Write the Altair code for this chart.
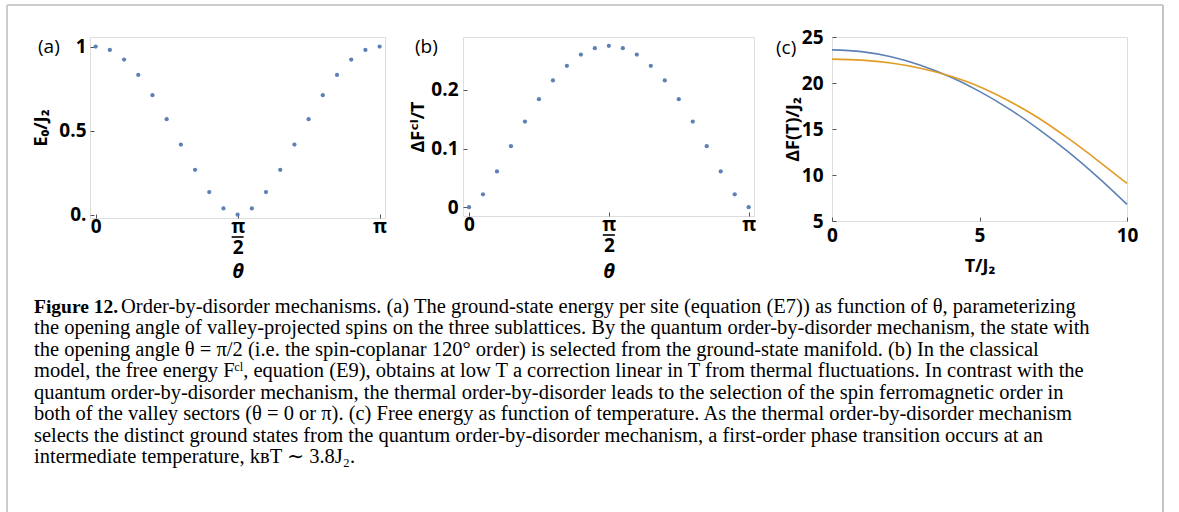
import altair as alt
import pandas as pd

# ---------------- data ----------------
theta_over_pi = [0.0, 0.05, 0.1, 0.15, 0.2, 0.25, 0.3, 0.35, 0.4, 0.45, 0.5,
                 0.55, 0.6, 0.65, 0.7, 0.75, 0.8, 0.85, 0.9, 0.95, 1.0]
E0_over_J2 = [1.0, 0.98, 0.923, 0.831, 0.711, 0.568, 0.417, 0.267, 0.134, 0.037, 0.0,
              0.037, 0.134, 0.267, 0.417, 0.568, 0.711, 0.831, 0.923, 0.98, 1.0]
dFcl_over_T = [0.0, 0.022, 0.061, 0.104, 0.146, 0.184, 0.216, 0.241, 0.260, 0.271, 0.275,
               0.271, 0.260, 0.241, 0.216, 0.184, 0.146, 0.104, 0.061, 0.022, 0.0]
T_over_J2 = [0, 1, 2, 3, 4, 5, 6, 7, 8, 9, 10]
F_blue = [23.6, 23.41, 22.85, 21.93, 20.67, 19.09, 17.19, 14.99, 12.53, 9.79, 6.8]
F_orange = [22.6, 22.49, 22.17, 21.6, 20.75, 19.6, 18.05, 16.2, 14.0, 11.6, 9.08]

x_ticks_theta = [0, 0.5, 1]
y_ticks_a = [0, 0.5, 1]
y_ticks_b = [0, 0.1, 0.2]
x_ticks_c = [0, 5, 10]
y_ticks_c = [5, 10, 15, 20, 25]

caption_first_bold = "Figure 12."
caption_first_rest = ("Order-by-disorder mechanisms. (a) The ground-state energy per site "
                      "(equation (E7)) as function of θ, parameterizing")
caption_lines = [
    "the opening angle of valley-projected spins on the three sublattices. By the quantum order-by-disorder mechanism, the state with",
    "the opening angle θ = π/2 (i.e. the spin-coplanar 120° order) is selected from the ground-state manifold. (b) In the classical",
    "model, the free energy Fᶜˡ, equation (E9), obtains at low T a correction linear in T from thermal fluctuations. In contrast with the",
    "quantum order-by-disorder mechanism, the thermal order-by-disorder leads to the selection of the spin ferromagnetic order in",
    "both of the valley sectors (θ = 0 or π). (c) Free energy as function of temperature. As the thermal order-by-disorder mechanism",
    "selects the distinct ground states from the quantum order-by-disorder mechanism, a first-order phase transition occurs at an",
    "intermediate temperature, kʙT ∼ 3.8J₂.",
]

BLUE = "#5E81B5"
ORANGE = "#E19C24"
FONT = "Open Sans, DejaVu Sans, sans-serif"
SERIF = "Liberation Serif, DejaVu Serif, serif"
CAP_FS = 20.5
LAB_FS = 19
TIT_FS = 18


def ax(**kw):
    base = dict(domain=False, grid=False, ticks=True, tickColor="#555555", tickSize=4,
                tickWidth=1, offset=-4, labelFont=FONT, labelFontSize=LAB_FS,
                labelFontWeight="bold", labelColor="black", titleFont=FONT,
                titleFontWeight="bold", titleColor="black", labelOverlap=False,
                labelFlush=False)
    base.update(kw)
    return alt.Axis(**base)


theta_label = "datum.value == 0 ? '0' : (datum.value == 1 ? 'π' : ['π', '2'])"


def frac_bar(H):
    return alt.Chart(pd.DataFrame({"theta": [0.5]})).mark_rule(
        color="black", strokeWidth=1.6, xOffset=-6, x2Offset=6
    ).encode(x="theta:Q", x2="theta", y=alt.value(H + 19))


def panel_label(txt, dx, dy):
    return alt.Chart(pd.DataFrame({"t": [txt]})).mark_text(
        font=FONT, fontSize=19, align="left", baseline="middle", color="black"
    ).encode(x=alt.value(dx), y=alt.value(dy), text="t:N")


# ---------------- caption + figure frame (drawn in panel (a)'s coordinates) ----------------
cap_scale = alt.Scale(domain=[0, 7], range=[276, 426], nice=False, zero=False)
cap_bold = alt.Chart(pd.DataFrame({"line": [0], "t": [caption_first_bold]})).mark_text(
    font=SERIF, fontSize=19.5, fontWeight="bold", align="left", baseline="alphabetic",
    color="black").encode(x=alt.value(-56), y=alt.Y("line:Q", scale=cap_scale, axis=None),
                          text="t:N")
cap_first = alt.Chart(pd.DataFrame({"line": [0], "t": [caption_first_rest]})).mark_text(
    font=SERIF, fontSize=CAP_FS, align="left", baseline="alphabetic", color="black"
).encode(x=alt.value(31), y=alt.Y("line:Q", scale=cap_scale, axis=None), text="t:N")
cap_rest = alt.Chart(pd.DataFrame({"line": list(range(1, 8)), "t": caption_lines})).mark_text(
    font=SERIF, fontSize=CAP_FS, align="left", baseline="alphabetic", color="black"
).encode(x=alt.value(-56), y=alt.Y("line:Q", scale=cap_scale, axis=None), text="t:N")

frame = pd.DataFrame({"k": [0]})
b_left = alt.Chart(frame).mark_rule(color="#cccccc", strokeWidth=2).encode(
    x=alt.value(-83), y=alt.value(-32), y2=alt.value(480))
b_top = alt.Chart(frame).mark_rule(color="#cccccc", strokeWidth=2).encode(
    x=alt.value(-83), x2=alt.value(1073), y=alt.value(-32))
b_right = alt.Chart(frame).mark_rule(color="#c4c4c4", strokeWidth=2).encode(
    x=alt.value(1073), y=alt.value(-32), y2=alt.value(480))

# ---------------- panel (a) ----------------
WA, HA = 295, 181
dfa = pd.DataFrame({"theta": theta_over_pi, "E": E0_over_J2})
pa = alt.Chart(dfa).mark_circle(size=18, color=BLUE, opacity=1).encode(
    x=alt.X("theta:Q", scale=alt.Scale(domain=[-0.02, 1.019], nice=False, zero=False),
            axis=ax(values=x_ticks_theta, labelExpr=theta_label, labelPadding=-1,
                    labelLineHeight=21, title="θ", titleFontSize=20,
                    titleFontStyle="italic", titleX=WA / 2, titleY=57,
                    titleBaseline="middle", titleAlign="center")),
    y=alt.Y("E:Q", scale=alt.Scale(domain=[-0.02, 1.057], nice=False, zero=False),
            axis=ax(values=y_ticks_a,
                    labelExpr="datum.value == 0 ? '0.' : (datum.value == 1 ? '1' : '0.5')",
                    labelPadding=4, title="E₀/J₂", titleFontSize=TIT_FS, titleX=-48,
                    titleY=HA / 2, titleBaseline="alphabetic", titleAlign="center")),
)
panel_a = alt.layer(pa, frac_bar(HA), panel_label("(a)", -52, 10),
                    b_left, b_top, b_right, cap_bold, cap_first, cap_rest
                    ).resolve_scale(y="independent").properties(width=WA, height=HA)

# ---------------- panel (b) ----------------
WB, HB = 291, 179
dfb = pd.DataFrame({"theta": theta_over_pi, "F": dFcl_over_T})
pb = alt.Chart(dfb).mark_circle(size=18, color=BLUE, opacity=1).encode(
    x=alt.X("theta:Q", scale=alt.Scale(domain=[-0.0215, 1.019], nice=False, zero=False),
            axis=ax(values=x_ticks_theta, labelExpr=theta_label, labelPadding=-1,
                    labelLineHeight=21, title="θ", titleFontSize=20,
                    titleFontStyle="italic", titleX=WB / 2, titleY=59,
                    titleBaseline="middle", titleAlign="center")),
    y=alt.Y("F:Q", scale=alt.Scale(domain=[-0.015, 0.29], nice=False, zero=False),
            axis=ax(values=y_ticks_b, labelExpr="datum.value == 0 ? '0' : datum.label",
                    labelPadding=5, title="ΔFᶜˡ/T", titleFontSize=TIT_FS,
                    titleX=-44, titleY=HB / 2, titleBaseline="alphabetic",
                    titleAlign="center")),
)
panel_b = alt.layer(pb, frac_bar(HB), panel_label("(b)", -48, 10)).properties(
    width=WB, height=HB)

# ---------------- panel (c) ----------------
WC, HC = 295, 184
dfc = pd.DataFrame({
    "T": T_over_J2 + T_over_J2,
    "F": F_blue + F_orange,
    "s": ["blue"] * len(T_over_J2) + ["orange"] * len(T_over_J2),
})
pc = alt.Chart(dfc).mark_line(strokeWidth=1.6, interpolate="monotone").encode(
    x=alt.X("T:Q", scale=alt.Scale(domain=[0, 10], nice=False, zero=False),
            axis=ax(values=x_ticks_c, labelPadding=5, title="T/J₂", titleFontSize=TIT_FS,
                    titleX=WC / 2, titleY=49, titleBaseline="middle", titleAlign="center")),
    y=alt.Y("F:Q", scale=alt.Scale(domain=[5, 25], nice=False, zero=False),
            axis=ax(values=y_ticks_c, labelPadding=9, title="ΔF(T)/J₂", titleFontSize=TIT_FS,
                    titleX=-38, titleY=HC / 2, titleBaseline="alphabetic",
                    titleAlign="center")),
    color=alt.Color("s:N", scale=alt.Scale(domain=["blue", "orange"], range=[BLUE, ORANGE]),
                    legend=None),
)
panel_c = alt.layer(pc, panel_label("(c)", -56, 11)).properties(width=WC, height=HC)

chart = alt.hconcat(panel_a, panel_b, panel_c, spacing=78, bounds="flush").properties(
    padding={"left": 5, "top": 3, "right": 0, "bottom": 0}
).configure_view(stroke="#666666", strokeWidth=1.2).configure(background="white")

chart.save("out.html", embed_options={"renderer": "svg", "actions": False})
